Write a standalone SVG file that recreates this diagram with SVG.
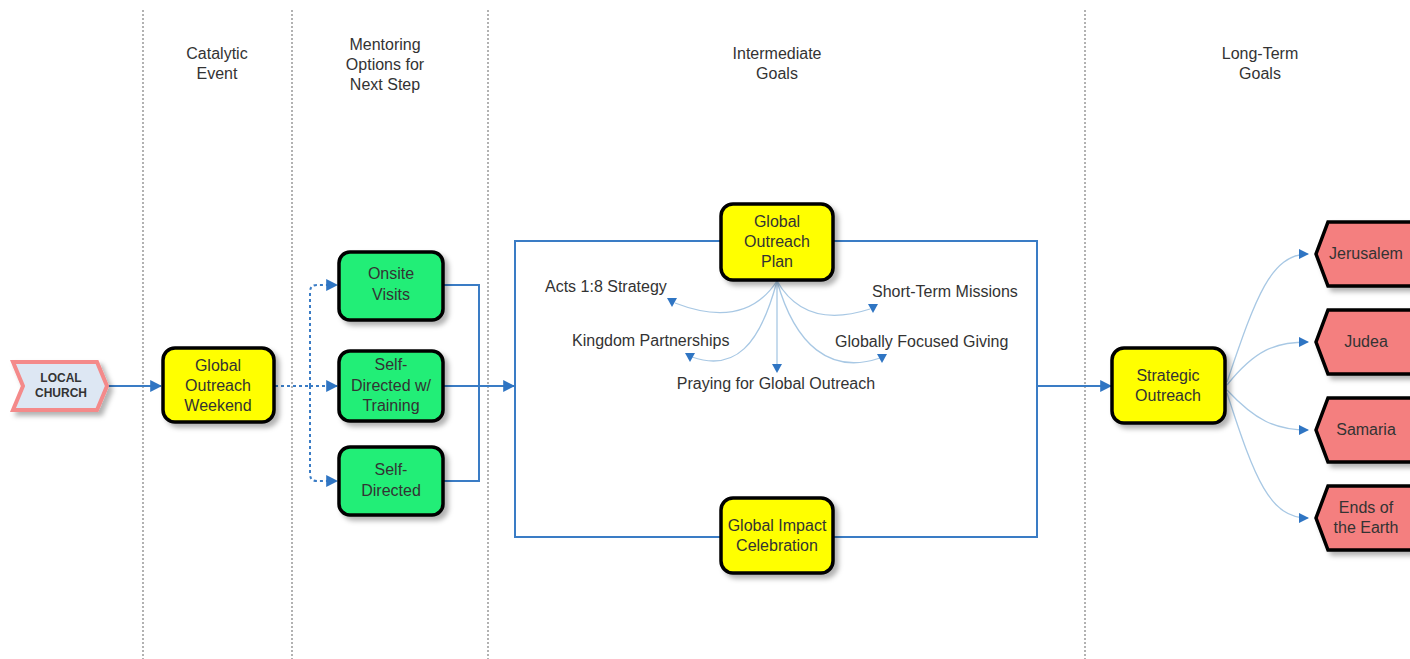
<svg xmlns="http://www.w3.org/2000/svg" width="1410" height="659" viewBox="0 0 1410 659">
<defs>
<style>
text{font-family:"Liberation Sans",Arial,sans-serif;font-size:16px;fill:#333;text-anchor:middle}
.lbl{text-anchor:start}
.div{stroke:#999;stroke-width:1.5;stroke-dasharray:2 2;fill:none}
.main{stroke:#3a7cc5;stroke-width:2;fill:none}
.dot{stroke:#3a7cc5;stroke-width:2;stroke-dasharray:3 3;fill:none}
.thin{stroke:#a8c8e4;stroke-width:1.3;fill:none}
.tri{fill:#2f75c3}
.yel{fill:#ffff00;stroke:#000;stroke-width:3.5}
.grn{fill:#22ee77;stroke:#000;stroke-width:3.5}
.red{fill:#f47f7f;stroke:#000;stroke-width:3.5}
.lc{font-size:12px;font-weight:bold}
</style>
<marker id="ah" viewBox="0 0 10 10" refX="9" refY="5" markerWidth="6" markerHeight="6" orient="auto" markerUnits="strokeWidth">
<path d="M0,0 L10,5 L0,10 z" fill="#2f75c3"/>
</marker>
<marker id="ahs" viewBox="0 0 10 10" refX="9" refY="5" markerWidth="8" markerHeight="8" orient="auto" markerUnits="strokeWidth">
<path d="M0,0 L10,5 L0,10 z" fill="#2f75c3"/>
</marker>
<filter id="sh" x="-20%" y="-20%" width="150%" height="150%">
<feDropShadow dx="4" dy="4" stdDeviation="2.5" flood-color="#000" flood-opacity="0.3"/>
</filter>
</defs>
<rect width="1410" height="659" fill="#fff"/>

<g id="dividers">
<line class="div" x1="143" y1="10" x2="143" y2="659"/>
<line class="div" x1="292" y1="10" x2="292" y2="659"/>
<line class="div" x1="488" y1="10" x2="488" y2="659"/>
<line class="div" x1="1085" y1="10" x2="1085" y2="659"/>
</g>

<g id="headers">
<text x="217" y="59">Catalytic</text><text x="217" y="79">Event</text>
<text x="385" y="50">Mentoring</text><text x="385" y="70">Options for</text><text x="385" y="90">Next Step</text>
<text x="777" y="59">Intermediate</text><text x="777" y="79">Goals</text>
<text x="1260" y="59">Long-Term</text><text x="1260" y="79">Goals</text>
</g>

<g id="connectors">
<line class="main" x1="108" y1="386" x2="161" y2="386" marker-end="url(#ah)"/>
<path class="dot" d="M275,386 H310"/>
<path class="dot" d="M310,386 V292 Q310,285 317,285 H337" marker-end="url(#ah)"/>
<path class="dot" d="M310,386 H337" marker-end="url(#ah)"/>
<path class="dot" d="M310,386 V474 Q310,481 317,481 H337" marker-end="url(#ah)"/>
<path class="main" d="M443,285 H479 V481 H443"/>
<line class="main" x1="443" y1="386" x2="514" y2="386" marker-end="url(#ah)"/>
<rect class="main" x="515" y="241" width="522" height="296"/>
<line class="main" x1="1037" y1="386" x2="1111" y2="386" marker-end="url(#ah)"/>
<path class="thin" d="M777,281 Q745,330 675,303"/>
<path class="thin" d="M777,281 C760,345 735,372 692,357"/>
<path class="thin" d="M777,281 V366"/>
<path class="thin" d="M777,281 Q805,330 870,309"/>
<path class="thin" d="M777,281 C795,345 830,375 880,358"/>
<polygon class="tri" points="667,298 677,298 672,307"/>
<polygon class="tri" points="685,353 695,353 690,362"/>
<polygon class="tri" points="772,364 782,364 777,373"/>
<polygon class="tri" points="868,304 878,304 873,313"/>
<polygon class="tri" points="877,354 887,354 882,363"/>
<path class="thin" d="M1227,382 C1255,300 1270,254 1308,254" marker-end="url(#ahs)"/>
<path class="thin" d="M1227,385 C1255,350 1275,342 1308,342" marker-end="url(#ahs)"/>
<path class="thin" d="M1227,390 C1255,420 1275,430 1308,430" marker-end="url(#ahs)"/>
<path class="thin" d="M1227,393 C1255,480 1270,518 1308,518" marker-end="url(#ahs)"/>
</g>

<g id="fan-labels">
<text class="lbl" x="545" y="292">Acts 1:8 Strategy</text>
<text class="lbl" x="572" y="346">Kingdom Partnerships</text>
<text x="776" y="389">Praying for Global Outreach</text>
<text class="lbl" x="872" y="297">Short-Term Missions</text>
<text class="lbl" x="835" y="347">Globally Focused Giving</text>
</g>

<g id="local-church">
<path d="M13,362 H97 L107,386 L97,410 H13 L23,386 Z" fill="#dde7f3" stroke="#f48a8a" stroke-width="4" filter="url(#sh)"/>
<text class="lc" x="61" y="382">LOCAL</text>
<text class="lc" x="61" y="397">CHURCH</text>
</g>

<g id="global-outreach-weekend">
<rect class="yel" x="163" y="348" width="111" height="74" rx="12" filter="url(#sh)"/>
<text x="218" y="371">Global</text><text x="218" y="391">Outreach</text><text x="218" y="411">Weekend</text>
</g>

<g id="onsite-visits">
<rect class="grn" x="339" y="252" width="104" height="68" rx="11" filter="url(#sh)"/>
<text x="391" y="279">Onsite</text><text x="391" y="300">Visits</text>
</g>
<g id="self-directed-training">
<rect class="grn" x="339" y="351" width="104" height="70" rx="11" filter="url(#sh)"/>
<text x="391" y="370">Self-</text><text x="391" y="391">Directed w/</text><text x="391" y="411">Training</text>
</g>
<g id="self-directed">
<rect class="grn" x="339" y="447" width="104" height="68" rx="11" filter="url(#sh)"/>
<text x="391" y="475">Self-</text><text x="391" y="496">Directed</text>
</g>

<g id="global-outreach-plan">
<rect class="yel" x="721" y="204" width="112" height="76" rx="12" filter="url(#sh)"/>
<text x="777" y="227">Global</text><text x="777" y="247">Outreach</text><text x="777" y="267">Plan</text>
</g>

<g id="global-impact-celebration">
<rect class="yel" x="721" y="498" width="112" height="75" rx="12" filter="url(#sh)"/>
<text x="777" y="531">Global Impact</text><text x="777" y="551">Celebration</text>
</g>

<g id="strategic-outreach">
<rect class="yel" x="1112" y="348" width="113" height="75" rx="12" filter="url(#sh)"/>
<text x="1168" y="381">Strategic</text><text x="1168" y="401">Outreach</text>
</g>

<g id="jerusalem">
<path class="red" d="M1328,222 H1412 L1422,254 L1412,286 H1328 L1316,254 Z" filter="url(#sh)"/>
<text x="1366" y="259">Jerusalem</text>
</g>
<g id="judea">
<path class="red" d="M1328,310 H1412 L1422,342 L1412,374 H1328 L1316,342 Z" filter="url(#sh)"/>
<text x="1366" y="347">Judea</text>
</g>
<g id="samaria">
<path class="red" d="M1328,398 H1412 L1422,430 L1412,462 H1328 L1316,430 Z" filter="url(#sh)"/>
<text x="1366" y="435">Samaria</text>
</g>
<g id="ends-of-the-earth">
<path class="red" d="M1328,486 H1412 L1422,518 L1412,550 H1328 L1316,518 Z" filter="url(#sh)"/>
<text x="1366" y="513">Ends of</text><text x="1366" y="533">the Earth</text>
</g>
</svg>
